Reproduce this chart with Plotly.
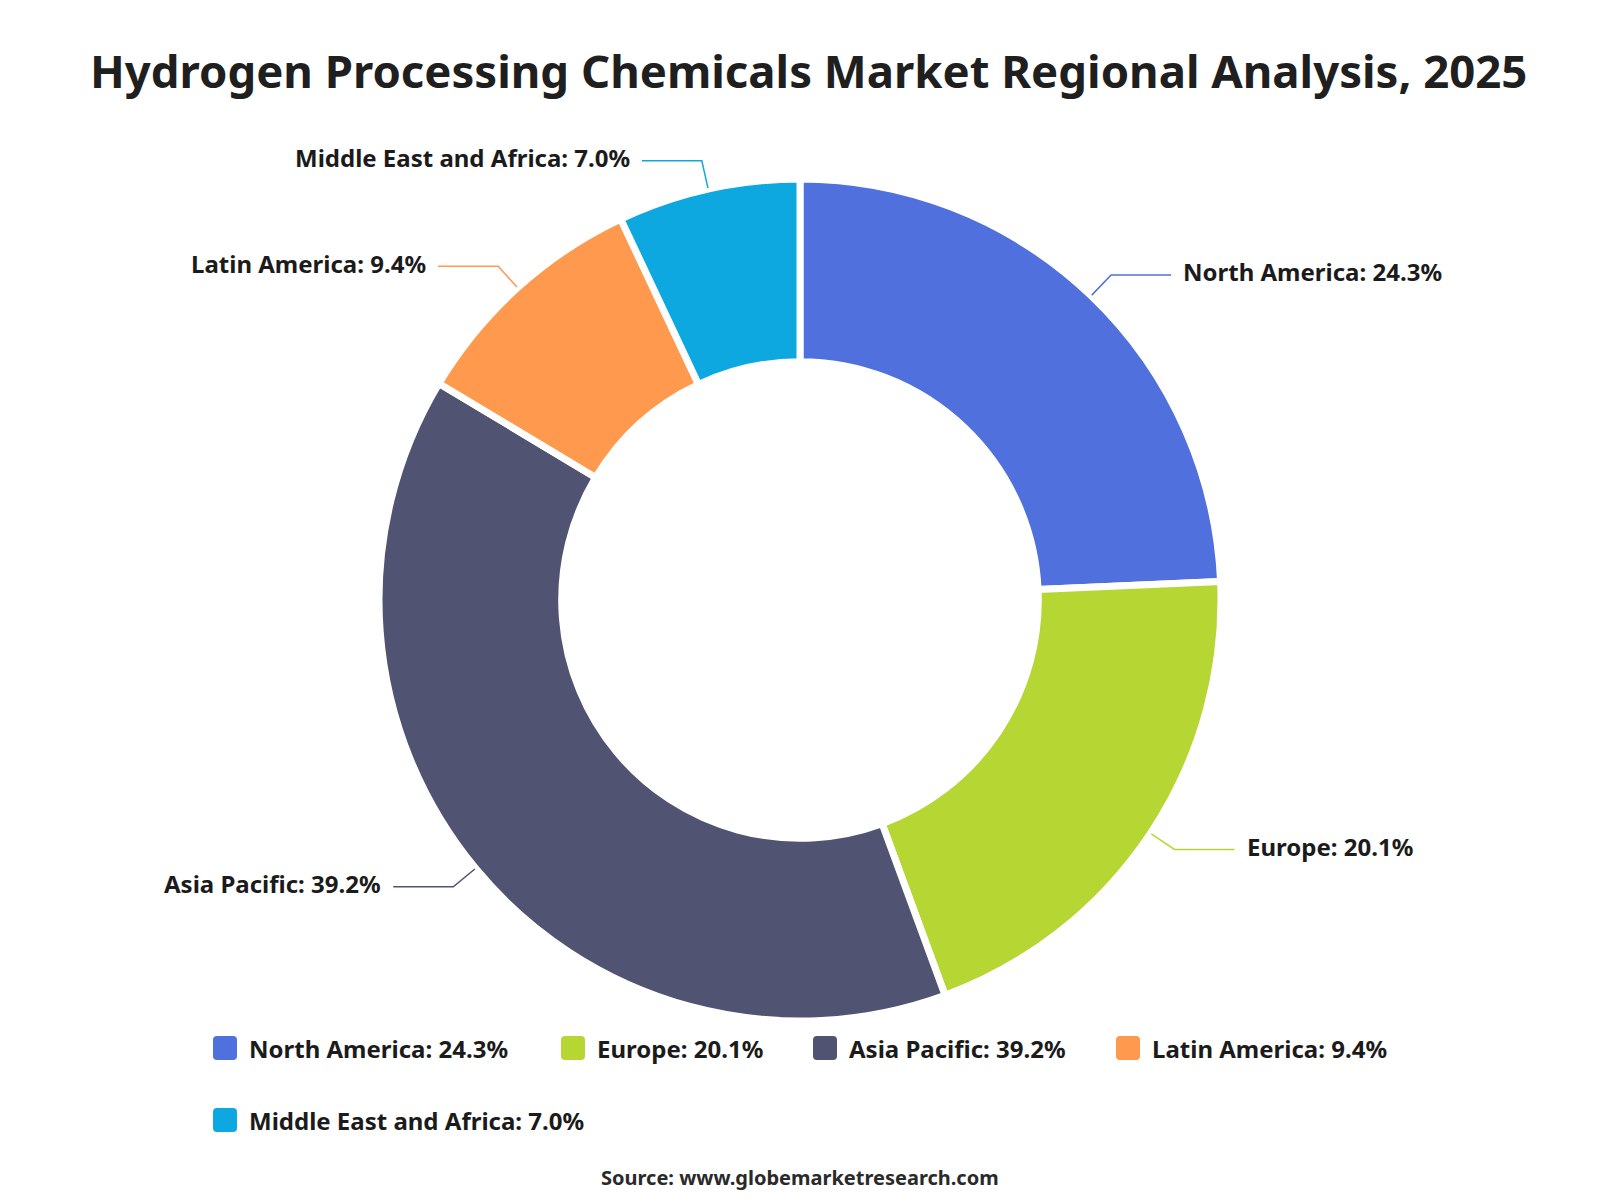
import math
import plotly.graph_objects as go

# ---- data ----
regions = ["North America", "Europe", "Asia Pacific", "Latin America", "Middle East and Africa"]
shares = [24.3, 20.1, 39.2, 9.4, 7.0]
colors = ["#5070dd", "#b6d634", "#505372", "#ff994d", "#0ca8df"]

title_text = "Hydrogen Processing Chemicals Market Regional Analysis, 2025"
source_text = "Source: www.globemarketresearch.com"

# ---- layout constants (pixels) ----
W, H = 1600, 1200
CX, CY = 800, 600
R_OUT = 421
HOLE = 0.566
FONT = "Noto Sans"
TXT = "#1b1b1b"
LBL_SIZE = 24

def px(x):
    return x / W

def py(y):
    return 1 - y / H

labels_txt = [f"{r}: {v:.1f}%" for r, v in zip(regions, shares)]

fig = go.Figure()
fig.add_trace(go.Pie(
    labels=regions,
    values=shares,
    sort=False,
    direction="clockwise",
    rotation=0,
    hole=HOLE,
    textinfo="none",
    hoverinfo="label+percent",
    marker=dict(colors=colors, line=dict(color="white", width=7)),
    domain=dict(x=[px(CX - R_OUT), px(CX + R_OUT)],
                y=[py(CY + R_OUT), py(CY - R_OUT)]),
    showlegend=False,
))

shapes = []
annotations = []

# leader lines + outside labels, positions derived from the data
total = sum(shares)
cum = 0.0
for lab, v, c in zip(labels_txt, shares, colors):
    mid = (cum + v / 2) / total * 2 * math.pi
    cum += v
    s, co = math.sin(mid), math.cos(mid)
    x0, y0 = CX + 422 * s, CY - 422 * co
    x1, y1 = CX + 450 * s, CY - 450 * co
    right = s >= 0
    x2 = x1 + (60 if right else -60)
    path = f"M {px(x0)},{py(y0)} L {px(x1)},{py(y1)} L {px(x2)},{py(y1)}"
    shapes.append(dict(type="path", path=path, xref="paper", yref="paper",
                       line=dict(color=c, width=1.5)))
    annotations.append(dict(
        x=px(x2 + (10 if right else -10)), y=py(y1 - 3), xref="paper", yref="paper",
        text=f"<b>{lab}</b>", showarrow=False,
        xanchor="left" if right else "right", yanchor="middle",
        font=dict(family=FONT, size=LBL_SIZE, color=TXT)))

# custom legend
legend_slots = [(213, 1048), (561, 1048), (813, 1048), (1116, 1048), (213, 1120)]
SQ = 24
RAD = 4
for (lx, ly), lab, c in zip(legend_slots, labels_txt, colors):
    xa, xb = lx, lx + SQ
    ya, yb = ly - SQ / 2, ly + SQ / 2
    pts = (
        f"M {px(xa + RAD)},{py(ya)} L {px(xb - RAD)},{py(ya)} "
        f"Q {px(xb)},{py(ya)} {px(xb)},{py(ya + RAD)} L {px(xb)},{py(yb - RAD)} "
        f"Q {px(xb)},{py(yb)} {px(xb - RAD)},{py(yb)} L {px(xa + RAD)},{py(yb)} "
        f"Q {px(xa)},{py(yb)} {px(xa)},{py(yb - RAD)} L {px(xa)},{py(ya + RAD)} "
        f"Q {px(xa)},{py(ya)} {px(xa + RAD)},{py(ya)} Z"
    )
    shapes.append(dict(type="path", path=pts, xref="paper", yref="paper",
                       fillcolor=c, line=dict(width=0)))
    annotations.append(dict(
        x=px(lx + SQ + 10), y=py(ly), xref="paper", yref="paper",
        text=f"<b>{lab}</b>", showarrow=False, xanchor="left", yanchor="middle",
        font=dict(family=FONT, size=LBL_SIZE, color=TXT)))

# title & source
annotations.append(dict(
    x=0.505, y=py(70), xref="paper", yref="paper", text=f"<b>{title_text}</b>",
    showarrow=False, xanchor="center", yanchor="middle",
    font=dict(family=FONT, size=45.5, color="#1f1f1f")))
annotations.append(dict(
    x=0.5, y=py(1177), xref="paper", yref="paper", text=f"<b>{source_text}</b>",
    showarrow=False, xanchor="center", yanchor="middle",
    font=dict(family=FONT, size=20, color="#2a2a2a")))

fig.update_layout(
    width=W, height=H,
    margin=dict(l=0, r=0, t=0, b=0),
    paper_bgcolor="white", plot_bgcolor="white",
    shapes=shapes, annotations=annotations,
)

fig.write_html("out.html")
